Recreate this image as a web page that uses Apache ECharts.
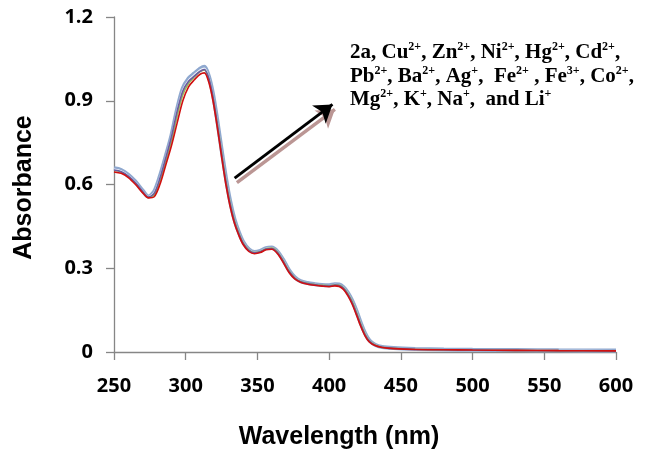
<!DOCTYPE html>
<html>
<head>
<meta charset="utf-8">
<script src="https://cdn.jsdelivr.net/npm/echarts@6/dist/echarts.min.js"></script>
<style>html,body{margin:0;padding:0;background:#fff}#c{width:649px;height:453px}</style>
</head>
<body>
<div id="c"></div>
<script>
var wavelengths = [250,255,260,265,270,274,278,282,286,290,294,298,302,306,310,313,316,319,322,325,328,331,334,337,340,344,348,352,356,360,364,368,372,376,380,385,390,395,400,404,407,410,413,416,419,422,425,428,432,437,445,460,480,500,530,560,600];

var absRed = [0.645,0.640,0.625,0.600,0.570,0.552,0.556,0.600,0.668,0.738,0.820,0.900,0.950,0.975,0.995,1.000,0.968,0.900,0.805,0.700,0.600,0.520,0.460,0.418,0.385,0.360,0.352,0.356,0.366,0.368,0.352,0.320,0.285,0.262,0.250,0.243,0.239,0.236,0.234,0.237,0.235,0.224,0.202,0.172,0.133,0.092,0.058,0.036,0.023,0.016,0.012,0.009,0.008,0.007,0.006,0.005,0.004];
var absPurple = [0.652,0.646,0.630,0.606,0.575,0.555,0.568,0.622,0.694,0.770,0.862,0.935,0.970,0.988,1.005,1.012,0.982,0.915,0.818,0.712,0.612,0.530,0.468,0.424,0.390,0.364,0.355,0.359,0.369,0.371,0.356,0.325,0.289,0.265,0.252,0.245,0.241,0.238,0.236,0.240,0.238,0.228,0.207,0.178,0.140,0.098,0.062,0.039,0.024,0.017,0.013,0.010,0.008,0.007,0.006,0.005,0.004];
var absGreen = [0.650,0.645,0.628,0.604,0.573,0.554,0.563,0.612,0.683,0.757,0.846,0.922,0.962,0.985,1.004,1.010,0.980,0.914,0.820,0.716,0.616,0.534,0.471,0.427,0.392,0.366,0.356,0.360,0.370,0.372,0.358,0.327,0.291,0.266,0.253,0.246,0.242,0.239,0.237,0.241,0.240,0.230,0.210,0.182,0.144,0.102,0.065,0.040,0.025,0.017,0.013,0.010,0.008,0.007,0.006,0.005,0.004];
var absPale = [0.655,0.649,0.632,0.608,0.577,0.557,0.572,0.626,0.697,0.772,0.866,0.940,0.975,0.994,1.011,1.017,0.987,0.921,0.826,0.721,0.621,0.537,0.473,0.429,0.394,0.367,0.357,0.361,0.371,0.373,0.359,0.329,0.292,0.267,0.253,0.246,0.242,0.239,0.238,0.242,0.241,0.231,0.212,0.184,0.147,0.104,0.067,0.041,0.026,0.018,0.014,0.011,0.009,0.008,0.007,0.006,0.005];
var absBlue = [0.658,0.652,0.635,0.610,0.578,0.557,0.575,0.630,0.700,0.775,0.870,0.945,0.980,0.998,1.015,1.022,0.990,0.925,0.830,0.725,0.625,0.540,0.475,0.430,0.395,0.368,0.358,0.362,0.372,0.374,0.360,0.330,0.293,0.268,0.254,0.247,0.243,0.240,0.239,0.243,0.242,0.232,0.213,0.185,0.148,0.105,0.068,0.042,0.026,0.018,0.014,0.011,0.009,0.008,0.007,0.006,0.005];

var xTicks = [250, 600, 50];
var yTicks = [0, 1.2, 0.3];
var arrowBlack = [[334.1, 0.623], [402.3, 0.887]];
var arrowShadow = [[335.7, 0.607], [404.0, 0.869]];

function pairs(vals) { return wavelengths.map(function (w, i) { return [w, vals[i]]; }); }

var chart = echarts.init(document.getElementById('c'), null, {renderer: 'canvas'});

var tickFont = {fontFamily: 'Open Sans', fontWeight: 'bold', fontSize: 20, color: '#000'};

function line(name, vals, color, width) {
  return {name: name, type: 'line', data: pairs(vals), showSymbol: false, smooth: 0.3,
    lineStyle: {color: color, width: width}, itemStyle: {color: color}, silent: true};
}

var series = [
  line('Hg', absBlue, '#8fa8cf', 4),
  line('Ni', absPale, '#eef2f8', 1.2),
  line('Zn', absGreen, '#9bbb59', 1.6),
  line('Cu', absPurple, '#6a5aa0', 1.6),
  line('2a', absRed, '#d01010', 1.6)
];
series.push({
  type: 'line', data: [], silent: true,
  markLine: {
    silent: true, animation: false, symbol: ['none', 'arrow'], symbolSize: 17,
    label: {show: false},
    data: [
      [{coord: arrowShadow[0], lineStyle: {color: '#bb9694', width: 3.5, type: 'solid'}, itemStyle: {color: '#bb9694'}},
       {coord: arrowShadow[1], itemStyle: {color: '#bb9694'}}],
      [{coord: arrowBlack[0], lineStyle: {color: '#000', width: 3, type: 'solid'}, itemStyle: {color: '#000'}},
       {coord: arrowBlack[1], itemStyle: {color: '#000'}}]
    ]
  }
});

var annot = '{n|2a, Cu}{s|2+}{n|, Zn}{s|2+}{n|, Ni}{s|2+}{n|, Hg}{s|2+}{n|, Cd}{s|2+}{n|,}\n' +
  '{n|Pb}{s|2+}{n|, Ba}{s|2+}{n|, Ag}{s|+}{n|,  Fe}{s|2+}{n| , Fe}{s|3+}{n|, Co}{s|2+}{n|,}\n' +
  '{n|Mg}{s|2+}{n|, K}{s|+}{n|, Na}{s|+}{n|,  and Li}{s|+}';

chart.setOption({
  animation: false,
  backgroundColor: '#fff',
  grid: {left: 114, right: 33, top: 17, bottom: 101, containLabel: false},
  xAxis: {
    type: 'value', min: xTicks[0], max: xTicks[1], interval: xTicks[2],
    axisLine: {lineStyle: {color: '#868686', width: 1.3}},
    axisTick: {show: true, inside: false, length: 8, lineStyle: {color: '#868686', width: 1.3}},
    axisLabel: Object.assign({margin: 24}, tickFont),
    splitLine: {show: false}
  },
  yAxis: {
    type: 'value', min: yTicks[0], max: yTicks[1], interval: yTicks[2],
    axisLine: {show: true, lineStyle: {color: '#868686', width: 1.3}},
    axisTick: {show: true, inside: false, length: 8, lineStyle: {color: '#868686', width: 1.3}},
    axisLabel: Object.assign({margin: 21}, tickFont),
    splitLine: {show: false}
  },
  graphic: [
    {type: 'text', silent: true,
     style: {x: 339, y: 437, text: 'Wavelength (nm)', fontFamily: 'Liberation Sans', fontWeight: 'bold', fontSize: 25, fill: '#000', textAlign: 'center', textVerticalAlign: 'middle'}},
    {type: 'text', silent: true, x: 24, y: 187.5, rotation: Math.PI / 2,
     style: {x: 0, y: 0, text: 'Absorbance', fontFamily: 'Liberation Sans', fontWeight: 'bold', fontSize: 25, fill: '#000', textAlign: 'center', textVerticalAlign: 'middle'}},
    {type: 'text', silent: true, x: 350, y: 41,
     style: {text: annot, fill: '#000', textAlign: 'left', textVerticalAlign: 'top',
       rich: {
         n: {fontFamily: 'Liberation Serif', fontWeight: 'bold', fontSize: 21, lineHeight: 23.5, fill: '#000'},
         s: {fontFamily: 'Liberation Serif', fontWeight: 'bold', fontSize: 12, lineHeight: 14, verticalAlign: 'top', fill: '#000'}
       }}}
  ],
  series: series
});
</script>
</body>
</html>
